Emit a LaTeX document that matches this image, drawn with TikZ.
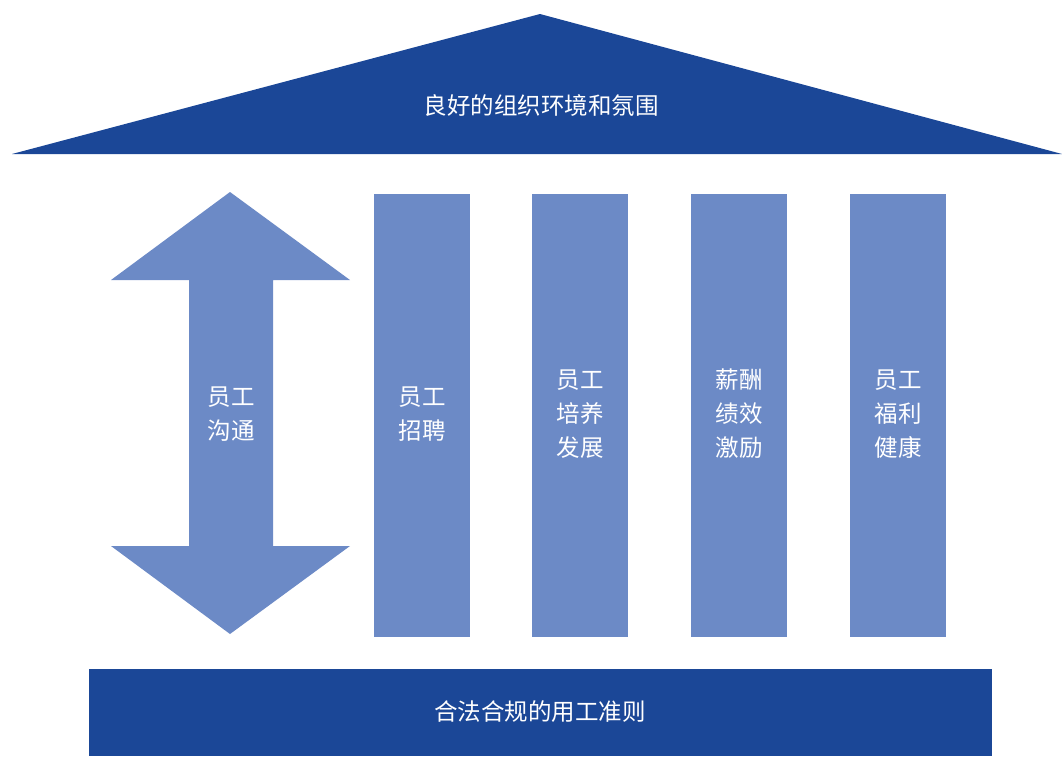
\documentclass[tikz,border=0pt]{standalone}
\usepackage{fontspec}
\newfontfamily\cjk{Noto Sans CJK SC}
\definecolor{darkblue}{HTML}{1B4797}
\definecolor{lightblue}{HTML}{6C8AC6}
\tikzset{
  lbl/.style={text=white, font=\cjk\fontsize{23.5}{34}\selectfont, align=center},
  pillar/.style={fill=lightblue, draw=none},
}
\begin{document}
\begin{tikzpicture}[x=1pt,y=-1pt]
\useasboundingbox (0,0) rectangle (1062,756);
% roof
\fill[darkblue] (540,14) -- (1062,154) -- (12,154) -- cycle;
\node[lbl] (roof) at (541,106) {良好的组织环境和氛围};
% double arrow
\fill[lightblue] (230,192) -- (350,280) -- (273,280) -- (273,546) -- (350,546) -- (230,634) -- (111,546) -- (189,546) -- (189,280) -- (111,280) -- cycle;
\node[lbl] (comm) at (231,414) {员工\\沟通};
% pillars
\fill[pillar] (374,194) rectangle (470,637);
\fill[pillar] (532,194) rectangle (628,637);
\fill[pillar] (691,194) rectangle (787,637);
\fill[pillar] (850,194) rectangle (946,637);
\node[lbl] (p1) at (422,414) {员工\\招聘};
\node[lbl] (p2) at (580,414) {员工\\培养\\发展};
\node[lbl] (p3) at (739,414) {薪酬\\绩效\\激励};
\node[lbl] (p4) at (898,414) {员工\\福利\\健康};
% base
\fill[darkblue] (89,669) rectangle (992,756);
\node[lbl] (base) at (540,712) {合法合规的用工准则};
\end{tikzpicture}
\end{document}
